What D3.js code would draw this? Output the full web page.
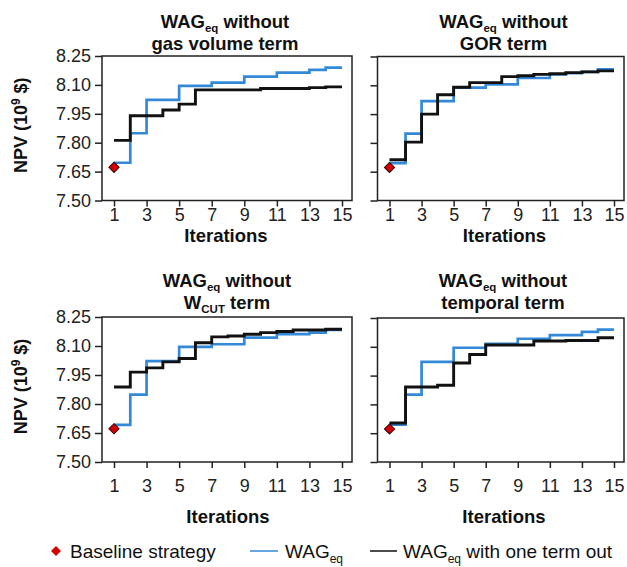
<!DOCTYPE html>
<html>
<head>
<meta charset="utf-8">
<script src="https://cdn.jsdelivr.net/npm/d3@7"></script>
<style>
  html, body { margin: 0; padding: 0; background: #fff; }
  svg { display: block; font-family: "Liberation Sans", Arial, sans-serif; }
</style>
</head>
<body>
<svg id="chart" width="627" height="567"></svg>
<script>
// ---- data ----
const iterations = [1, 2, 3, 4, 5, 6, 7, 8, 9, 10, 11, 12, 13, 14, 15];
const xTickValues = [1, 3, 5, 7, 9, 11, 13, 15];
const yTickValues = [7.50, 7.65, 7.80, 7.95, 8.10, 8.25];
const baselineValue = 7.672;

const wagGas   = [7.696, 7.849, 8.022, 8.022, 8.095, 8.095, 8.112, 8.112, 8.143, 8.143, 8.164, 8.164, 8.178, 8.190, 8.190];
const outGas   = [7.812, 7.940, 7.940, 7.970, 8.000, 8.074, 8.074, 8.074, 8.074, 8.081, 8.081, 8.081, 8.086, 8.090, 8.090];

const wagGOR   = [7.695, 7.848, 8.018, 8.018, 8.088, 8.088, 8.105, 8.105, 8.138, 8.138, 8.157, 8.163, 8.170, 8.183, 8.183];
const outGOR   = [7.712, 7.804, 7.950, 8.051, 8.090, 8.114, 8.114, 8.145, 8.150, 8.157, 8.160, 8.166, 8.170, 8.175, 8.175];

const wagWcut  = [7.692, 7.849, 8.022, 8.022, 8.095, 8.095, 8.109, 8.109, 8.143, 8.143, 8.161, 8.161, 8.169, 8.183, 8.183];
const outWcut  = [7.888, 7.965, 7.987, 8.018, 8.035, 8.117, 8.147, 8.152, 8.161, 8.169, 8.175, 8.183, 8.183, 8.187, 8.187];

const wagTemp  = [7.694, 7.851, 8.022, 8.022, 8.095, 8.095, 8.116, 8.116, 8.142, 8.142, 8.161, 8.161, 8.178, 8.189, 8.189];
const outTemp  = [7.703, 7.891, 7.891, 7.900, 8.016, 8.060, 8.109, 8.109, 8.109, 8.130, 8.130, 8.133, 8.133, 8.147, 8.147];

const titleLine1 = ["WAG", "eq", " without"];
const titleLine2 = ["gas volume term", "GOR term", null, "temporal term"];
const xLabel = "Iterations";
const legendLabels = ["Baseline strategy", "WAG", "with one term out"];

// ---- layout ----
const BLUE = "#3389d8";
const BLACK = "#111111";
const panels = [
  {x0: 102,   x1: 352, y0: 56,  y1: 200.5, wag: wagGas,  out: outGas,  t2: 0, yLab: true,  col: 225,  tY: 28,  xtY: 220.5, xlY: 241.5},
  {x0: 377.5, x1: 624, y0: 56.5,y1: 200.5, wag: wagGOR,  out: outGOR,  t2: 1, yLab: false, col: 503.5,tY: 28,  xtY: 220.5, xlY: 241.5},
  {x0: 102,   x1: 352, y0: 317, y1: 462,   wag: wagWcut, out: outWcut, t2: 2, yLab: true,  col: 227,  tY: 287, xtY: 491.5, xlY: 523},
  {x0: 377.5, x1: 624, y0: 318, y1: 462,   wag: wagTemp, out: outTemp, t2: 3, yLab: false, col: 503,  tY: 287, xtY: 491.5, xlY: 523}
];

const svg = d3.select("#chart");

panels.forEach(p => {
  const x = d3.scaleLinear().domain([1, 15]).range([p.x0 + 12, p.x1 - 10]);
  const y = d3.scaleLinear().domain([7.50, 8.25]).range([p.y1, p.y0]);
  const g = svg.append("g");

  // y axis ticks
  const yAxis = d3.axisLeft(y).tickValues(yTickValues).tickSize(7).tickPadding(4)
      .tickFormat(p.yLab ? d3.format(".2f") : () => "");
  const ya = g.append("g").attr("transform", `translate(${p.x0},0)`).call(yAxis);
  ya.select(".domain").remove();
  ya.selectAll("line").attr("stroke", "#222").attr("stroke-width", 1.5);
  ya.selectAll("text").attr("font-size", 18).attr("fill", "#222")
    .attr("font-family", "'Liberation Sans', Arial, sans-serif");

  // x axis ticks
  const xAxis = d3.axisBottom(x).tickValues(xTickValues).tickSize(6).tickFormat(d3.format("d"));
  const xa = g.append("g").attr("transform", `translate(0,${p.y1})`).call(xAxis);
  xa.select(".domain").remove();
  xa.selectAll("line").attr("stroke", "#222").attr("stroke-width", 1.5);
  xa.selectAll("text").attr("font-size", 18).attr("fill", "#222")
    .attr("font-family", "'Liberation Sans', Arial, sans-serif")
    .attr("dy", null).attr("y", p.xtY - p.y1).attr("dominant-baseline", "auto");

  // frame
  g.append("rect").attr("x", p.x0).attr("y", p.y0)
    .attr("width", p.x1 - p.x0).attr("height", p.y1 - p.y0)
    .attr("fill", "none").attr("stroke", "#222").attr("stroke-width", 1.5);

  const line = d3.line().x((d, i) => x(iterations[i])).y(d => y(d)).curve(d3.curveStepAfter);
  g.append("path").datum(p.wag).attr("d", line)
    .attr("fill", "none").attr("stroke", BLUE).attr("stroke-width", 2.7);
  g.append("path").datum(p.out).attr("d", line)
    .attr("fill", "none").attr("stroke", BLACK).attr("stroke-width", 2.9);

  // baseline diamond
  g.append("path").attr("d", d3.symbol(d3.symbolSquare, 52)())
    .attr("transform", `translate(${x(1)},${y(baselineValue)}) rotate(45)`)
    .attr("fill", "#d40000").attr("stroke", "#3a0000").attr("stroke-width", 1);

  // titles
  const t1 = g.append("text").attr("x", p.col).attr("y", p.tY).attr("text-anchor", "middle")
    .attr("font-size", 18.5).attr("font-weight", "bold").attr("fill", "#111");
  t1.append("tspan").text(titleLine1[0]);
  t1.append("tspan").text(titleLine1[1]).attr("font-size", 11.5).attr("dy", 4);
  t1.append("tspan").text(titleLine1[2]).attr("dy", -4);

  const t2 = g.append("text").attr("x", p.col).attr("y", p.tY + 22).attr("text-anchor", "middle")
    .attr("font-size", 18.5).attr("font-weight", "bold").attr("fill", "#111");
  if (titleLine2[p.t2] !== null) {
    t2.text(titleLine2[p.t2]);
  } else {
    t2.append("tspan").text("W");
    t2.append("tspan").text("CUT").attr("font-size", 11.5).attr("dy", 4);
    t2.append("tspan").text(" term").attr("dy", -4);
  }

  // x label
  g.append("text").attr("x", p.col + 1).attr("y", p.xlY).attr("text-anchor", "middle")
    .attr("font-size", 18.5).attr("font-weight", "bold").attr("fill", "#111").text(xLabel);

  // y label
  if (p.yLab) {
    const cy = (p.y0 + p.y1) / 2 - 3;
    const yl = g.append("text").attr("transform", `translate(27,${cy}) rotate(-90)`)
      .attr("text-anchor", "middle").attr("font-size", 18).attr("font-weight", "bold").attr("fill", "#111");
    yl.append("tspan").text("NPV (10");
    yl.append("tspan").text("9").attr("font-size", 12).attr("dy", -7);
    yl.append("tspan").text(" $)").attr("dy", 7);
  }
});

// ---- legend ----
const lg = svg.append("g");
const ly = 551;
lg.append("path").attr("d", d3.symbol(d3.symbolSquare, 50)())
  .attr("transform", `translate(56,${ly}) rotate(45)`).attr("fill", "#d40000");
lg.append("text").attr("x", 70).attr("y", ly + 7).attr("font-size", 19).attr("fill", "#111").text(legendLabels[0]);

lg.append("line").attr("x1", 250).attr("x2", 278).attr("y1", ly).attr("y2", ly)
  .attr("stroke", BLUE).attr("stroke-width", 1.5);
const l2 = lg.append("text").attr("x", 285).attr("y", ly + 7).attr("font-size", 19).attr("fill", "#111");
l2.append("tspan").text(legendLabels[1]);
l2.append("tspan").text("eq").attr("font-size", 12).attr("dy", 5);

lg.append("line").attr("x1", 370).attr("x2", 397).attr("y1", ly).attr("y2", ly)
  .attr("stroke", BLACK).attr("stroke-width", 1.5);
const l3 = lg.append("text").attr("x", 403).attr("y", ly + 7).attr("font-size", 19).attr("fill", "#111");
l3.append("tspan").text(legendLabels[1]);
l3.append("tspan").text("eq").attr("font-size", 12).attr("dy", 5);
l3.append("tspan").text(" " + legendLabels[2]).attr("dy", -5);
</script>
</body>
</html>
